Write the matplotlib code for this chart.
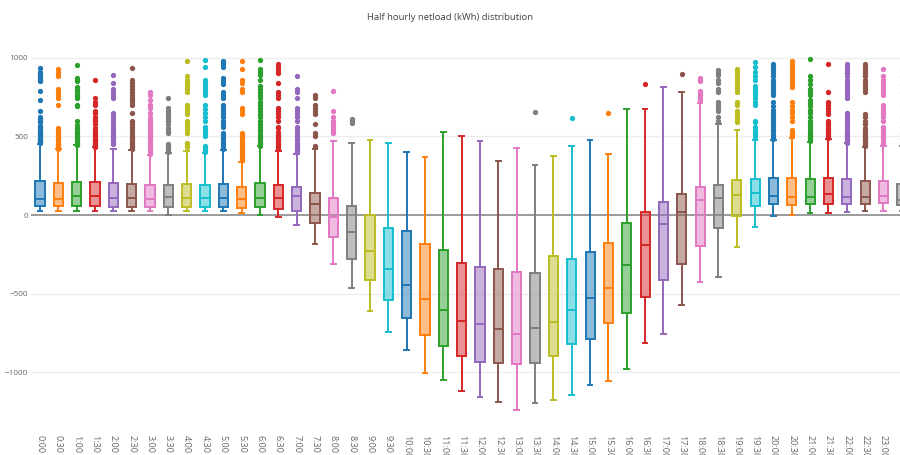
import matplotlib
matplotlib.use("Agg")
import matplotlib.pyplot as plt
from matplotlib.colors import to_rgba

# ---------------- data ----------------
labels = [f"{h}:{m:02d}" for h in range(24) for m in (0, 30)]

whis_low = [23, 23, 23, 23, 23, 23, 23, -2, 23, 23, 23, 13, 2, -11, -66, -182,
            -309, -466, -610, -743, -857, -1006, -1046, -1116, -1154, -1190, -1238, -1192,
            -1175, -1143, -1082, -1052, -980, -813, -756, -572, -428, -392, -205, -74,
            -6, 0, 11, 11, 21, 28, 28, 28]
q1 = [55, 55, 57, 59, 49, 53, 49, 53, 53, 49, 53, 44, 53, 40, 28, -49,
      -142, -279, -415, -542, -654, -764, -832, -895, -934, -938, -946, -938,
      -895, -819, -788, -686, -625, -521, -415, -313, -195, -85, -8, 59,
      68, 64, 68, 68, 68, 68, 74, 64]
median = [104, 104, 121, 123, 108, 108, 104, 114, 108, 108, 108, 99, 108, 108, 119, 70,
          -11, -110, -231, -341, -442, -531, -601, -675, -690, -726, -756, -720,
          -677, -601, -525, -462, -318, -193, -59, 19, 95, 110, 125, 138,
          123, 116, 116, 131, 116, 116, 123, 95]
q3 = [218, 205, 212, 207, 205, 197, 188, 193, 197, 193, 197, 176, 205, 188, 176, 142,
      110, 55, 0, -80, -100, -184, -222, -307, -328, -343, -360, -370,
      -258, -279, -233, -178, -53, 19, 80, 131, 176, 191, 220, 229,
      233, 233, 226, 233, 229, 218, 218, 195]
whis_high = [451, 419, 445, 430, 419, 413, 381, 392, 404, 396, 413, 339, 438, 408, 387, 417,
             468, 455, 478, 459, 400, 370, 527, 500, 472, 343, 423, 318,
             377, 438, 474, 390, 675, 675, 815, 781, 713, 578, 538, 476,
             476, 487, 466, 480, 455, 434, 440, 440]

outliers = [
    [455, 462, 470, 478, 485, 492, 500, 508, 515, 522, 530, 540, 548, 556, 565, 590, 600, 610, 620, 660, 730, 790, 850, 858, 866, 875, 884, 892, 900, 910, 935],
    [420, 428, 436, 444, 452, 460, 468, 476, 484, 492, 500, 510, 520, 530, 540, 550, 700, 740, 755, 770, 785, 800, 880, 895, 910, 925],
    [445, 452, 460, 470, 480, 490, 500, 520, 530, 545, 555, 570, 600, 690, 700, 740, 755, 765, 780, 795, 810, 850, 860, 870, 950],
    [430, 438, 446, 455, 465, 475, 485, 495, 505, 520, 535, 550, 580, 595, 610, 625, 645, 660, 700, 720, 740, 860],
    [450, 460, 470, 480, 490, 500, 515, 530, 545, 560, 580, 600, 615, 630, 650, 740, 760, 780, 800, 840, 890],
    [420, 430, 440, 450, 460, 470, 480, 490, 500, 520, 540, 560, 575, 590, 600, 650, 700, 715, 730, 745, 760, 780, 800, 820, 840, 860, 935],
    [390, 400, 410, 420, 430, 440, 450, 460, 470, 480, 490, 500, 510, 520, 530, 540, 550, 560, 575, 590, 605, 620, 650, 680, 700, 730, 760, 780],
    [400, 410, 420, 430, 440, 450, 520, 535, 550, 580, 595, 610, 625, 640, 660, 680, 740],
    [430, 440, 450, 460, 520, 540, 560, 580, 600, 640, 660, 680, 700, 780, 800, 815, 830, 845, 860, 880, 980],
    [400, 410, 420, 430, 440, 500, 515, 530, 545, 560, 600, 625, 650, 675, 700, 760, 780, 800, 820, 840, 860, 940, 985],
    [420, 435, 450, 465, 480, 495, 510, 520, 560, 580, 600, 620, 640, 660, 680, 700, 740, 760, 780, 830, 850, 870, 940, 960, 970, 980],
    [350, 360, 370, 380, 390, 400, 410, 420, 430, 440, 450, 460, 470, 480, 490, 500, 510, 520, 640, 660, 680, 780, 800, 840, 860, 930, 975],
    [440, 450, 460, 470, 480, 495, 510, 525, 540, 560, 580, 600, 620, 640, 660, 680, 700, 720, 740, 760, 780, 800, 820, 860, 890, 910, 930, 985],
    [420, 430, 440, 450, 460, 470, 480, 495, 510, 530, 550, 560, 600, 620, 640, 660, 680, 740, 760, 780, 840, 900, 920, 940, 960],
    [400, 410, 420, 430, 440, 450, 460, 475, 490, 500, 520, 540, 560, 600, 620, 640, 660, 680, 740, 780, 800, 880],
    [430, 440, 500, 520, 580, 640, 660, 680, 700, 740, 760],
    [520, 530, 540, 560, 580, 600, 620, 660, 790],
    [585, 600, 610],
    [], [], [], [], [], [], [], [], [],
    [654],
    [],
    [616],
    [],
    [646],
    [],
    [834],
    [],
    [898],
    [730, 745, 760, 775, 790, 850, 860, 870],
    [600, 620, 660, 680, 700, 720, 780, 800, 840, 860, 890, 905, 920],
    [590, 610, 630, 645, 660, 700, 720, 780, 800, 815, 830, 850, 865, 880, 900, 915, 930],
    [490, 505, 520, 540, 560, 590, 600, 700, 720, 740, 760, 780, 800, 820, 860, 880, 910, 940, 970],
    [480, 495, 510, 525, 540, 560, 580, 600, 615, 630, 650, 670, 690, 720, 760, 780, 800, 820, 840, 860, 880, 900, 920, 940, 960],
    [500, 510, 520, 530, 540, 600, 620, 650, 670, 690, 720, 810, 830, 850, 870, 880, 900, 920, 940, 960, 975],
    [470, 480, 490, 500, 510, 520, 535, 550, 565, 580, 600, 620, 650, 670, 690, 710, 730, 760, 780, 800, 830, 860, 880, 990],
    [490, 500, 510, 520, 530, 540, 555, 570, 585, 600, 640, 660, 680, 700, 720, 780, 960],
    [460, 470, 480, 490, 500, 510, 520, 535, 550, 565, 580, 600, 615, 630, 650, 740, 760, 780, 800, 820, 840, 860, 880, 900, 920, 940, 960],
    [440, 450, 460, 470, 480, 490, 500, 510, 520, 535, 550, 580, 600, 620, 640, 780, 800, 820, 840, 860, 880, 900, 920, 940, 960],
    [450, 460, 470, 480, 490, 500, 510, 520, 535, 550, 560, 600, 620, 640, 660, 680, 700, 760, 780, 800, 820, 840, 860, 880, 930],
    [450, 480, 520, 560, 620, 700, 780, 830, 880, 920],
]

palette = ['#1f77b4', '#ff7f0e', '#2ca02c', '#d62728', '#9467bd',
           '#8c564b', '#e377c2', '#7f7f7f', '#bcbd22', '#17becf']

# ---------------- figure ----------------
plt.rcParams['font.family'] = ['Open Sans', 'DejaVu Sans']
W, H = 900, 455
fig = plt.figure(figsize=(W / 100, H / 100), dpi=100)
left_px, right_px, top_px, bot_px = 30.8, 911.0, 41.8, 427.6
ax = fig.add_axes([left_px / W, 1 - bot_px / H, (right_px - left_px) / W, (bot_px - top_px) / H])

n = len(labels)
for i in range(n):
    c = palette[i % len(palette)]
    st = [dict(med=median[i], q1=q1[i], q3=q3[i], whislo=whis_low[i],
               whishi=whis_high[i], fliers=outliers[i])]
    ax.bxp(st, positions=[i], widths=0.5, capwidths=0.25, patch_artist=True,
           manage_ticks=False, zorder=3,
           boxprops=dict(facecolor=to_rgba(c, 0.5), edgecolor=c, linewidth=1.4),
           whiskerprops=dict(color=c, linewidth=1.4),
           capprops=dict(color=c, linewidth=1.4),
           medianprops=dict(color=c, linewidth=1.4),
           flierprops=dict(marker='o', markerfacecolor=c, markeredgecolor=c,
                           markersize=2.8, linestyle='none'))

ax.set_xlim(-0.5, n - 0.5)
ax.set_ylim(-1350, 1100)
ax.set_yticks([-1000, -500, 0, 500, 1000])
ax.set_yticklabels(['−1000', '−500', '0', '500', '1000'])
ax.set_xticks(range(n))
ax.set_xticklabels(labels, rotation=-90, va='top', ha='center')
ax.tick_params(axis='both', length=0, colors='#666666')
ax.tick_params(axis='x', pad=5, labelsize=6.5)
ax.tick_params(axis='y', pad=2, labelsize=5.9)
for s in ax.spines.values():
    s.set_visible(False)
for v in [-1000, -500, 500, 1000]:
    ax.axhline(v, color='#eeeeee', linewidth=1, zorder=0)
ax.axhline(0, color='#8a8a8a', linewidth=1.2, zorder=1)

fig.text(0.5, 1 - 17 / H, 'Half hourly netload (kWh) distribution',
         ha='center', va='center', fontsize=6.8, color='#444444')

fig.savefig('out.png', dpi=100)
